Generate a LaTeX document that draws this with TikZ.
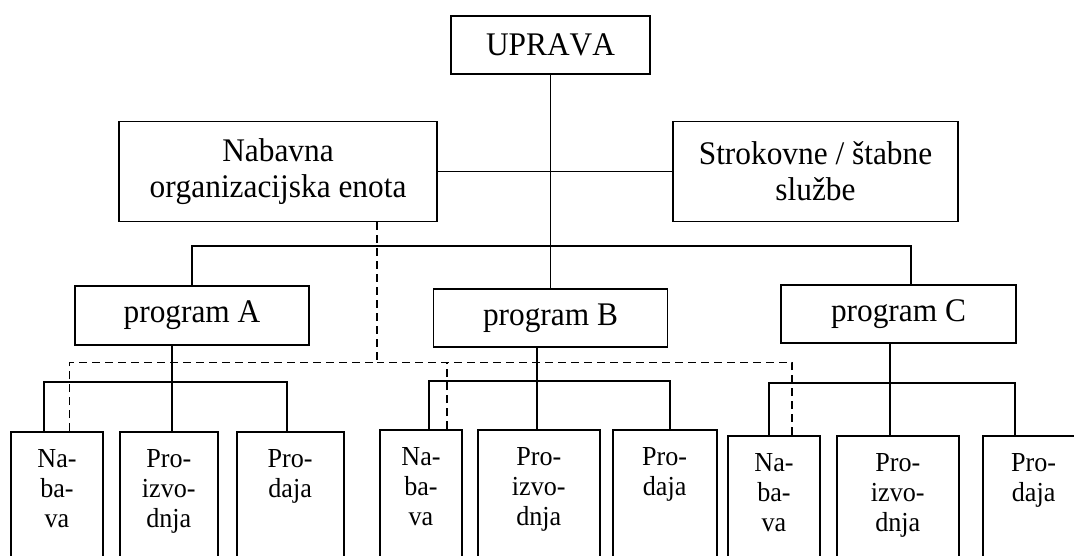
\documentclass[tikz,border=0pt]{standalone}
\usepackage{fontspec}
\setmainfont{Liberation Serif}[FakeStretch=0.95, Kerning=Off]
\usetikzlibrary{positioning}

\begin{document}
\begin{tikzpicture}[
    x=1pt, y=-1pt,
    block/.style={rectangle, draw, line width=1.8pt, inner sep=0pt, align=center, font=\fontsize{33}{36}\selectfont},
    unit/.style={rectangle, draw, line width=1.8pt, inner sep=0pt, anchor=north, align=center, minimum width=#1, text width=70pt, text height=36pt, text depth=160pt, font=\fontsize{27.5}{30}\selectfont},
    conn/.style={line width=1.8pt},
    link/.style={line width=1.6pt, dash pattern=on 8pt off 5pt}
]
    \useasboundingbox (0,0) rectangle (1074,555);
    \clip (0,0) rectangle (1074,555);

    % upper levels
    \node[block, minimum width=199pt, minimum height=58pt] (upr) at (550.5,45) {UPRAVA};
    \node[block, minimum width=318pt, minimum height=100pt] (nab) at (278,171.5) {Nabavna\\organizacijska enota};
    \node[block, minimum width=285pt, minimum height=100pt] (strk) at (815.5,171.5) {Strokovne / štabne\\službe};
    \node[block, minimum width=234pt, minimum height=59pt] (progA) at (192,315.5) {program A};
    \node[block, minimum width=234pt, minimum height=58pt] (progB) at (550.5,318) {program B};
    \node[block, minimum width=235pt, minimum height=58pt] (progC) at (898.5,314) {program C};

    % functions per program
    \node[unit=92pt] (nabA) at (57,431) {Na-\\ba-\\va};
    \node[unit=98pt, right=15pt of nabA] (proA) {Pro-\\izvo-\\dnja};
    \node[unit=107pt, right=17pt of proA] (prdA) {Pro-\\daja};

    \node[unit=82pt] (nabB) at (421,429) {Na-\\ba-\\va};
    \node[unit=122pt, right=14pt of nabB] (proB) {Pro-\\izvo-\\dnja};
    \node[unit=104pt, right=11pt of proB] (prdB) {Pro-\\daja};

    \node[unit=92pt] (nabC) at (774,435) {Na-\\ba-\\va};
    \node[unit=122pt, right=15pt of nabC] (proC) {Pro-\\izvo-\\dnja};
    \node[unit=102pt, right=22pt of proC] (prdC) {Pro-\\daja};

    % line connections
    \draw[conn] (upr) -- (progB);
    \draw[conn] (nab) -- (strk);
    \draw[conn] (progA.north) -- ++(0,-39) -| ([xshift=12.5pt]progC.north);

    \draw[conn] ([xshift=3pt]proA.north) -- ([xshift=3pt]proA.north |- progA.south);
    \draw[conn] ([xshift=-13pt]nabA.north) -- ++(0,-49) -| ([xshift=-3.5pt]prdA.north);
    \draw[conn] ([xshift=-2pt]proB.north) -- ([xshift=-2pt]proB.north |- progB.south);
    \draw[conn] ([xshift=8pt]nabB.north) -- ++(0,-48) -| ([xshift=5pt]prdB.north);
    \draw[conn] ([xshift=-8pt]proC.north) -- ([xshift=-8pt]proC.north |- progC.south);
    \draw[conn] ([xshift=-5pt]nabC.north) -- ++(0,-52) -| ([xshift=-19pt]prdC.north);

    % purchasing unit (dashed)
    \draw[link] ([xshift=99pt]nab.south) -- ++(0,140) coordinate (hub);
    \draw[link] ([xshift=12.6pt]nabA.north) |- (hub);
    \draw[link] ([xshift=18pt]nabC.north) |- (hub);
    \draw[link] ([xshift=26pt]nabB.north) -- ([xshift=26pt]nabB.north |- hub);
\end{tikzpicture}
\end{document}
